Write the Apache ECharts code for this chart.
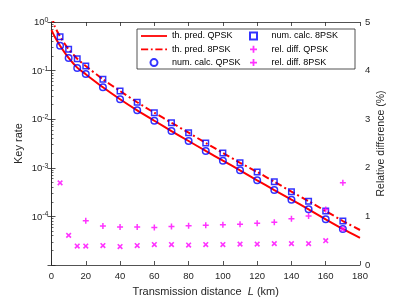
<!DOCTYPE html>
<html>
<head>
<meta charset="utf-8">
<script src="https://cdn.jsdelivr.net/npm/echarts@6/dist/echarts.min.js"></script>
<style>
html,body{margin:0;padding:0;background:#fff;}
#c{width:399px;height:299px;}
</style>
</head>
<body>
<div id="c"></div>
<script>
// ---- data ----
const thDist = [0, 2, 5, 10, 15, 20, 30, 40, 50, 60, 70, 80, 90, 100, 110, 120, 130, 140, 150, 160, 170, 180];
const thQPSK = [0.68, 0.49, 0.325, 0.182, 0.115, 0.084, 0.0453, 0.0257, 0.0152, 0.0093, 0.00571, 0.00356, 0.00222, 0.00140, 8.89e-4, 5.53e-4, 3.49e-4, 2.21e-4, 1.40e-4, 8.71e-5, 5.51e-5, 3.6e-5];
const th8PSK = [1.35, 0.80, 0.499, 0.274, 0.176, 0.124, 0.0662, 0.0380, 0.0223, 0.0136, 0.00847, 0.00527, 0.00324, 0.00202, 0.00127, 8.20e-4, 5.18e-4, 3.22e-4, 2.05e-4, 1.29e-4, 8.04e-5, 5.25e-5];

const numDist = [5, 10, 15, 20, 30, 40, 50, 60, 70, 80, 90, 100, 110, 120, 130, 140, 150, 160, 170];
const numQPSK = [0.325, 0.182, 0.113, 0.085, 0.0453, 0.0257, 0.0152, 0.0093, 0.00571, 0.00356, 0.00222, 0.00140, 8.89e-4, 5.53e-4, 3.49e-4, 2.21e-4, 1.40e-4, 8.71e-5, 5.51e-5];
const num8PSK = [0.499, 0.274, 0.176, 0.124, 0.0662, 0.0380, 0.0223, 0.0136, 0.00847, 0.00527, 0.00324, 0.00202, 0.00127, 8.20e-4, 5.18e-4, 3.22e-4, 2.05e-4, 1.29e-4, 8.04e-5];

const relDistQPSK = [20, 30, 40, 50, 60, 70, 80, 90, 100, 110, 120, 130, 140, 150, 160, 170];
const relQPSK = [0.91, 0.80, 0.78, 0.78, 0.77, 0.79, 0.81, 0.82, 0.83, 0.84, 0.86, 0.88, 0.95, 1.01, 1.14, 1.69];
const relDist8PSK = [5, 10, 15, 20, 30, 40, 50, 60, 70, 80, 90, 100, 110, 120, 130, 140, 150, 160, 170];
const rel8PSK = [1.69, 0.61, 0.39, 0.39, 0.40, 0.38, 0.40, 0.42, 0.42, 0.41, 0.42, 0.42, 0.43, 0.43, 0.44, 0.44, 0.44, 0.50, 0.74];

const xTicks = [0, 20, 40, 60, 80, 100, 120, 140, 160, 180];
const logDecades = [-5, -4, -3, -2, -1, 0];

// ---- build ----
const zip = (xs, ys) => xs.map((x, i) => [x, ys[i]]);
const minorVals = [];
logDecades.slice(0, -1).forEach(e => {
  for (let m = 2; m <= 9; m++) minorVals.push(Number((m * Math.pow(10, e)).toPrecision(3)));
});

const AX = '#262626';
const FONT = '"Liberation Sans", Arial, Helvetica, sans-serif';
const plusPath = 'path://M3.75,0 L6.25,0 L6.25,3.75 L10,3.75 L10,6.25 L6.25,6.25 L6.25,10 L3.75,10 L3.75,6.25 L0,6.25 L0,3.75 L3.75,3.75 Z';
const squarePath = 'path://M0,0 L10,0 L10,10 L0,10 Z';
const solidIcon = 'path://M0,0 L29,0 L29,2 L0,2 Z';
const dashDotIcon = 'path://M0,0 L8,0 L8,2 L0,2 Z M11,0 L13,0 L13,2 L11,2 Z M16,0 L24,0 L24,2 L16,2 Z M27,0 L29,0 L29,2 L27,2 Z';

const chart = echarts.init(document.getElementById('c'), null, {renderer: 'canvas'});
const legendText = {fontSize: 9, color: '#000', lineHeight: 11, fontFamily: FONT};
chart.setOption({
  animation: false,
  backgroundColor: '#fff',
  textStyle: {fontFamily: FONT},
  grid: {left: 51.5, right: 39, top: 22, bottom: 34, containLabel: false, outerBoundsMode: 'none'},
  xAxis: [{
    type: 'value', min: 0, max: 180, interval: 20, position: 'bottom',
    axisLine: {lineStyle: {color: AX, width: 0.8}},
    axisTick: {inside: true, length: 4, lineStyle: {color: AX, width: 0.8}},
    axisLabel: {fontSize: 9.5, color: AX, margin: 6, fontFamily: FONT},
    splitLine: {show: false},
    name: '{n|Transmission distance  }{i|L}{n| (km)}',
    nameLocation: 'middle', nameGap: 21,
    nameTextStyle: {rich: {n: {fontSize: 11, color: AX, fontFamily: FONT}, i: {fontSize: 11, color: AX, fontStyle: 'italic', fontFamily: FONT}}}
  }, {
    type: 'value', min: 0, max: 180, interval: 20, position: 'top',
    axisLine: {lineStyle: {color: AX, width: 0.8}},
    axisTick: {inside: true, length: 4, lineStyle: {color: AX, width: 0.8}},
    axisLabel: {show: false}, splitLine: {show: false}
  }],
  yAxis: [{
    type: 'log', logBase: 10, min: 1e-5, max: 1, position: 'left',
    axisLine: {lineStyle: {color: AX, width: 0.8}},
    axisTick: {inside: true, length: 4, lineStyle: {color: AX, width: 0.8}},
    splitLine: {show: false},
    axisLabel: {
      margin: 3, color: AX,
      formatter: v => {
        const e = Math.round(Math.log10(v));
        if (e === -5) return '';
        return '{b|10}{s|' + e + '}';
      },
      rich: {
        b: {fontSize: 9.5, color: AX, fontFamily: FONT, lineHeight: 11, verticalAlign: 'bottom', padding: [4, 0, 0, 0]},
        s: {fontSize: 7, color: AX, fontFamily: FONT, lineHeight: 11, verticalAlign: 'top'}
      }
    },
    name: 'Key rate', nameLocation: 'middle', nameGap: 27, nameMoveOverlap: false,
    nameTextStyle: {fontSize: 11, color: AX, fontFamily: FONT}
  }, {
    type: 'value', min: 0, max: 5, interval: 1, position: 'right',
    axisLine: {show: true, lineStyle: {color: AX, width: 0.8}},
    axisTick: {show: true, inside: true, length: 4, lineStyle: {color: AX, width: 0.8}},
    axisLabel: {fontSize: 9.5, color: AX, margin: 5, fontFamily: FONT},
    splitLine: {show: false},
    name: 'Relative difference (%)', nameLocation: 'middle', nameGap: 16, nameMoveOverlap: false,
    nameTextStyle: {fontSize: 10.5, color: AX, fontFamily: FONT}
  }, {
    type: 'log', logBase: 10, min: 1e-5, max: 1, position: 'left', offset: 0,
    axisLine: {show: false},
    axisTick: {show: true, inside: true, length: 2, customValues: minorVals, lineStyle: {color: AX, width: 0.7}},
    axisLabel: {show: false}, splitLine: {show: false}
  }],
  legend: [{
    data: [
      {name: 'th. pred. QPSK', icon: solidIcon},
      {name: 'th. pred. 8PSK', icon: dashDotIcon},
      {name: 'num. calc. QPSK'}
    ],
    orient: 'vertical', left: 141, top: 30.5, padding: 0,
    itemWidth: 26, itemHeight: 7, itemGap: 2.3,
    textStyle: legendText, selectedMode: false
  }, {
    data: ['num. calc. 8PSK', 'rel. diff. QPSK', 'rel. diff. 8PSK'],
    orient: 'vertical', left: 249, top: 30.5, padding: 0,
    itemWidth: 26, itemHeight: 7, itemGap: 2.3,
    textStyle: legendText, selectedMode: false
  }],
  graphic: [{
    type: 'rect', z: 3, silent: true,
    shape: {x: 137, y: 29, width: 218, height: 40},
    style: {fill: '#fff', stroke: AX, lineWidth: 0.8}
  }],
  series: [{
    name: 'th. pred. QPSK', type: 'line', xAxisIndex: 0, yAxisIndex: 0,
    data: zip(thDist, thQPSK), symbol: 'none', smooth: 0.2, clip: true,
    itemStyle: {color: '#ff0000'},
    lineStyle: {color: '#ff0000', width: 2}, z: 2
  }, {
    name: 'th. pred. 8PSK', type: 'line', xAxisIndex: 0, yAxisIndex: 0,
    data: zip(thDist, th8PSK), symbol: 'none', smooth: 0.2, clip: true,
    itemStyle: {color: '#ff0000'},
    lineStyle: {color: '#ff0000', width: 2, type: [7, 3, 2, 3]}, z: 2
  }, {
    name: 'num. calc. QPSK', type: 'scatter', xAxisIndex: 0, yAxisIndex: 0,
    data: zip(numDist, numQPSK), symbol: 'circle', symbolSize: 6.5,
    itemStyle: {color: 'rgba(255,255,255,0)', borderColor: '#0000ff', borderWidth: 1.5}, z: 3
  }, {
    name: 'num. calc. 8PSK', type: 'scatter', xAxisIndex: 0, yAxisIndex: 0,
    data: zip(numDist, num8PSK), symbol: squarePath, symbolSize: 5.5,
    itemStyle: {color: 'rgba(255,255,255,0)', borderColor: '#0000ff', borderWidth: 1.5}, z: 3
  }, {
    name: 'rel. diff. QPSK', type: 'scatter', xAxisIndex: 0, yAxisIndex: 1,
    data: zip(relDistQPSK, relQPSK), symbol: plusPath, symbolSize: 6,
    itemStyle: {color: '#ff00ff'}, z: 3
  }, {
    name: 'rel. diff. 8PSK', type: 'scatter', xAxisIndex: 0, yAxisIndex: 1,
    data: zip(relDist8PSK, rel8PSK), symbol: plusPath, symbolSize: 6.5, symbolRotate: 45,
    itemStyle: {color: '#ff00ff'}, z: 3
  }]
});
</script>
</body>
</html>
